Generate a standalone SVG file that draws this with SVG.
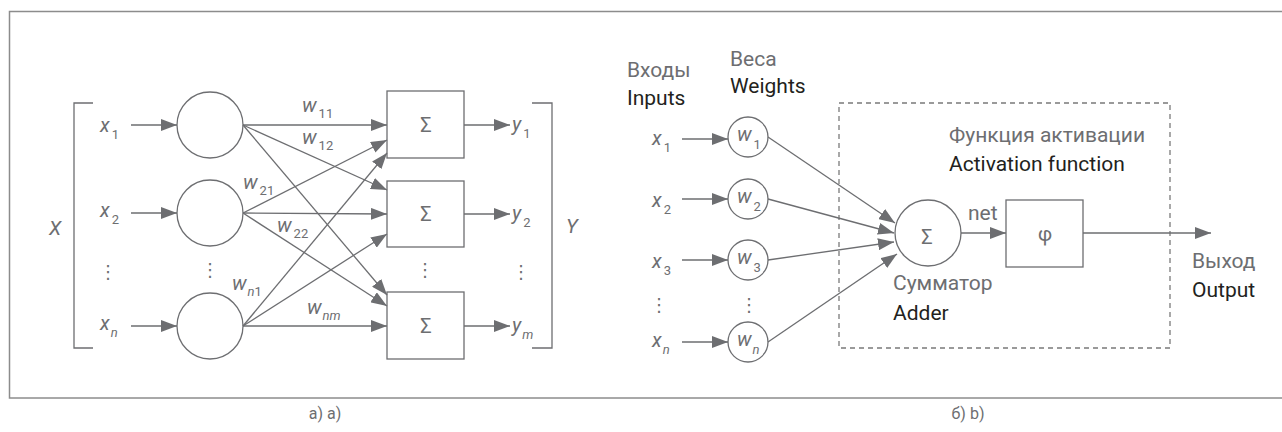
<svg xmlns="http://www.w3.org/2000/svg" width="1282" height="432" viewBox="0 0 1282 432">
  <defs>
    <marker id="arrow" viewBox="0 0 16 12" markerWidth="16" markerHeight="12" refX="16" refY="6" orient="auto" markerUnits="userSpaceOnUse">
      <path d="M0,0 L16,6 L0,12 z" fill="#6d6e71"/>
    </marker>
    <style>
      .ln { stroke: #6d6e71; stroke-width: 1.3; fill: none; }
      .arr { stroke: #6d6e71; stroke-width: 1.3; fill: none; marker-end: url(#arrow); }
      .node { stroke: #6d6e71; stroke-width: 1.3; fill: #ffffff; }
      .frame { stroke: #8c8c8c; stroke-width: 1.5; fill: none; }
      .dash { stroke: #7a7a7a; stroke-width: 1.3; fill: none; stroke-dasharray: 5 4; }
      .math { font-family: Roboto, "Liberation Sans", sans-serif; font-style: italic; font-size: 20px; fill: #6d6e71; }
      .sub { font-size: 13px; }
      .num { font-size: 13px; font-style: normal; }
      .sym { font-family: Roboto, "DejaVu Sans", sans-serif; font-size: 20px; fill: #6d6e71; text-anchor: middle; }
      .dots { font-family: "DejaVu Sans", sans-serif; font-size: 18px; fill: #6d6e71; text-anchor: middle; }
      .ru { font-family: Roboto, "Liberation Sans", sans-serif; font-size: 21px; fill: #6d6e71; }
      .en { font-family: Roboto, "Liberation Sans", sans-serif; font-size: 21px; fill: #231f20; }
      .cap { font-family: Roboto, "Liberation Sans", sans-serif; font-size: 16px; fill: #6d6e71; text-anchor: middle; }
    </style>
  </defs>

  <!-- outer frame -->
  <rect class="frame" x="9.5" y="11.5" width="1290" height="386.5"/>

  <!-- ===== a) layer of neurons ===== -->
  <g id="input-bracket">
    <path class="ln" d="M93,103 H74 V348 H93"/>
    <text class="math" x="49" y="235" font-size="21">X</text>
  </g>
  <g id="output-bracket">
    <path class="ln" d="M532,103 H552 V348 H532"/>
    <text class="math" x="566" y="233" font-size="21">Y</text>
  </g>

  <g id="input-labels">
    <text class="math" x="100" y="132">x<tspan class="num" dx="2" dy="7">1</tspan></text>
    <text class="math" x="100" y="217">x<tspan class="num" dx="2" dy="7">2</tspan></text>
    <text class="dots" x="108" y="278">⋮</text>
    <text class="math" x="100" y="330">x<tspan class="sub" dx="1" dy="7">n</tspan></text>
  </g>

  <g id="neuron-1"><circle class="node" cx="210" cy="125" r="33"/></g>
  <g id="neuron-2"><circle class="node" cx="210" cy="213" r="33"/></g>
  <g id="neuron-n"><circle class="node" cx="210" cy="326" r="33"/></g>
  <text class="dots" x="210" y="276" font-size="12">⋮</text>

  <g id="sum-1"><rect class="node" x="387" y="91" width="77" height="67"/><text class="sym" x="426" y="132">Σ</text></g>
  <g id="sum-2"><rect class="node" x="387" y="181" width="77" height="66"/><text class="sym" x="426" y="221">Σ</text></g>
  <g id="sum-m"><rect class="node" x="387" y="292" width="77" height="67"/><text class="sym" x="426" y="333">Σ</text></g>
  <text class="dots" x="425" y="276" font-size="12">⋮</text>

  <g id="output-labels">
    <text class="math" x="512" y="131">y<tspan class="num" dx="2" dy="7">1</tspan></text>
    <text class="math" x="512" y="220">y<tspan class="num" dx="2" dy="7">2</tspan></text>
    <text class="dots" x="521" y="278">⋮</text>
    <text class="math" x="512" y="332">y<tspan class="sub" dx="1" dy="7">m</tspan></text>
  </g>

  <g id="weight-labels">
    <text class="math" x="302" y="112">w<tspan class="num" dx="2" dy="6">11</tspan></text>
    <text class="math" x="302" y="144">w<tspan class="num" dx="2" dy="6">12</tspan></text>
    <text class="math" x="243" y="189">w<tspan class="num" dx="2" dy="6">21</tspan></text>
    <text class="math" x="277" y="232">w<tspan class="num" dx="2" dy="6">22</tspan></text>
    <text class="math" x="232" y="290">w<tspan class="sub" dx="1" dy="6">n</tspan><tspan class="num">1</tspan></text>
    <text class="math" x="307" y="314">w<tspan class="sub" dx="1" dy="6">nm</tspan></text>
  </g>

  <g id="connectors-a">
    <!-- inputs into neurons -->
    <line class="arr" x1="131" y1="125" x2="177" y2="125"/>
    <line class="arr" x1="131" y1="213" x2="177" y2="213"/>
    <line class="arr" x1="131" y1="326" x2="177" y2="326"/>
    <!-- neuron 1 -->
    <line class="arr" x1="243" y1="125" x2="387" y2="125"/>
    <line class="arr" x1="243" y1="125" x2="387" y2="190"/>
    <line class="arr" x1="243" y1="125" x2="387" y2="295"/>
    <!-- neuron 2 -->
    <line class="arr" x1="243" y1="213" x2="387" y2="140"/>
    <line class="arr" x1="243" y1="213" x2="387" y2="214"/>
    <line class="arr" x1="243" y1="213" x2="387" y2="306"/>
    <!-- neuron n -->
    <line class="arr" x1="243" y1="326" x2="387" y2="153"/>
    <line class="arr" x1="243" y1="326" x2="387" y2="234"/>
    <line class="arr" x1="243" y1="326" x2="387" y2="326"/>
    <!-- adders to outputs -->
    <line class="arr" x1="464" y1="125" x2="510" y2="125"/>
    <line class="arr" x1="464" y1="214" x2="510" y2="214"/>
    <line class="arr" x1="464" y1="326" x2="510" y2="326"/>
  </g>

  <!-- ===== b) single neuron ===== -->
  <g id="headers">
    <text class="ru" x="627" y="77">Входы</text>
    <text class="en" x="627" y="105">Inputs</text>
    <text class="ru" x="730" y="66">Веса</text>
    <text class="en" x="730" y="93">Weights</text>
  </g>

  <rect id="activation-area" class="dash" x="839" y="103" width="331" height="245"/>

  <g id="inputs-b">
    <text class="math" x="652" y="145">x<tspan class="num" dx="2" dy="7">1</tspan></text>
    <text class="math" x="652" y="207">x<tspan class="num" dx="2" dy="7">2</tspan></text>
    <text class="math" x="652" y="268">x<tspan class="num" dx="2" dy="7">3</tspan></text>
    <text class="dots" x="659" y="311">⋮</text>
    <text class="math" x="652" y="347">x<tspan class="sub" dx="1" dy="7">n</tspan></text>
  </g>

  <g id="weight-1"><circle class="node" cx="748" cy="137" r="20"/><text class="math" x="737" y="141" font-size="18">w<tspan class="num" dx="2" dy="8">1</tspan></text></g>
  <g id="weight-2"><circle class="node" cx="748" cy="199" r="20"/><text class="math" x="737" y="203" font-size="18">w<tspan class="num" dx="2" dy="8">2</tspan></text></g>
  <g id="weight-3"><circle class="node" cx="748" cy="260" r="20"/><text class="math" x="737" y="264" font-size="18">w<tspan class="num" dx="2" dy="8">3</tspan></text></g>
  <text class="dots" x="749" y="311">⋮</text>
  <g id="weight-n"><circle class="node" cx="748" cy="342" r="20"/><text class="math" x="737" y="346" font-size="18">w<tspan class="sub" dx="1" dy="8">n</tspan></text></g>

  <g id="adder">
    <circle class="node" cx="928" cy="233" r="33"/>
    <text class="sym" x="927" y="244">Σ</text>
    <text class="ru" x="893" y="290">Сумматор</text>
    <text class="en" x="893" y="320">Adder</text>
  </g>

  <g id="activation">
    <text class="ru" x="949" y="142">Функция активации</text>
    <text class="en" x="949" y="171">Activation function</text>
    <rect class="node" x="1006" y="200" width="77" height="67"/>
    <text class="sym" x="1045" y="241">φ</text>
  </g>

  <g id="output-b">
    <text class="ru" x="1192" y="268">Выход</text>
    <text class="en" x="1192" y="297">Output</text>
  </g>

  <g id="connectors-b">
    <line class="arr" x1="682" y1="139" x2="728" y2="139"/>
    <line class="arr" x1="682" y1="199" x2="728" y2="199"/>
    <line class="arr" x1="682" y1="260" x2="728" y2="260"/>
    <line class="arr" x1="682" y1="342" x2="728" y2="342"/>
    <line class="arr" x1="768" y1="137" x2="895" y2="223"/>
    <line class="arr" x1="768" y1="199" x2="894" y2="233"/>
    <line class="arr" x1="768" y1="260" x2="894" y2="242"/>
    <line class="arr" x1="768" y1="342" x2="897" y2="254"/>
    <line class="arr" x1="961" y1="233" x2="1006" y2="233"/>
    <text class="ru" x="968" y="220">net</text>
    <line class="arr" x1="1083" y1="233" x2="1211" y2="233"/>
  </g>

  <g id="captions">
    <text class="cap" x="325" y="419">а) a)</text>
    <text class="cap" x="968" y="419">б) b)</text>
  </g>
</svg>
